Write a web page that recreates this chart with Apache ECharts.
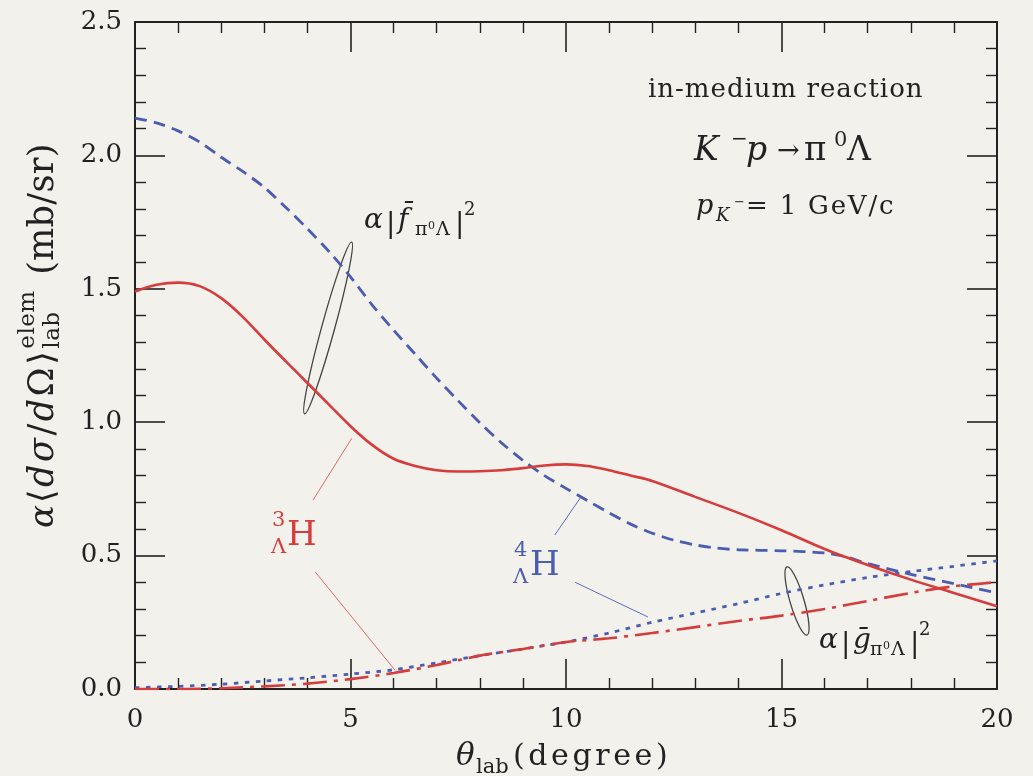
<!DOCTYPE html>
<html><head><meta charset="utf-8">
<script src="https://cdn.jsdelivr.net/npm/echarts@6/dist/echarts.min.js"></script>
<style>html,body{margin:0;padding:0;background:#f3f1ec;}#c{width:1033px;height:776px;}</style>
</head><body><div id="c"></div>
<script>
// ---- data (theta_lab in degrees, cross sections in mb/sr) ----
const xF3 = [0,0.5,1,1.5,2,2.5,3,3.5,4,4.5,5,5.5,6,6.5,7,7.5,8,8.5,9,9.5,10,10.5,11,11.5,12,13,14,15,16,17,18,19,20];
const h3F = [1.49,1.515,1.523,1.51,1.465,1.395,1.31,1.228,1.147,1.066,0.985,0.915,0.863,0.836,0.82,0.815,0.816,0.82,0.828,0.838,0.842,0.836,0.82,0.80,0.78,0.72,0.66,0.595,0.525,0.465,0.41,0.36,0.31];
const xF4 = [0,0.5,1,1.5,2,2.5,3,3.5,4,4.5,5,5.5,6,6.5,7,7.5,8,8.5,9,9.5,10,10.5,11,11.5,12,12.5,13,13.5,14,15,16,16.5,17,18,19,20];
const h4F = [2.14,2.122,2.092,2.05,1.993,1.94,1.88,1.805,1.725,1.64,1.545,1.44,1.345,1.255,1.165,1.08,0.998,0.923,0.857,0.80,0.752,0.706,0.66,0.618,0.584,0.558,0.54,0.528,0.522,0.518,0.51,0.495,0.47,0.43,0.395,0.36];
const xG = [0,1,2,3,4,5,6,7,8,9,10,11,12,13,14,15,16,17,18,19,20];
const h4G = [0.005,0.01,0.018,0.03,0.042,0.056,0.072,0.098,0.125,0.15,0.176,0.21,0.25,0.285,0.32,0.358,0.39,0.418,0.44,0.46,0.48];
const h3G = [0,0,0.003,0.01,0.02,0.037,0.06,0.09,0.125,0.15,0.176,0.19,0.21,0.232,0.255,0.275,0.30,0.33,0.36,0.385,0.40];
const xTicks = [0,5,10,15,20];
const yTicks = ['0.0','0.5','1.0','1.5','2.0','2.5'];

const RED = '#d63c3c', BLUE = '#4a5db0', INK = '#222';
const FF = '"DejaVu Serif", "Liberation Serif", serif';

const chart = echarts.init(document.getElementById('c'), null, {renderer:'canvas'});
const pairs = (xs, ys) => xs.map((x,i)=>[x, ys[i]]);

const axisCommon = {
  axisLine:{show:true, onZero:false, lineStyle:{color:INK, width:2}},
  axisTick:{show:true, inside:true, length:30, lineStyle:{color:INK, width:1.6}},
  minorTick:{show:true, splitNumber:5, length:11, lineStyle:{color:INK, width:1.4}},
  splitLine:{show:false}, minorSplitLine:{show:false}
};
const leader = (pts, color) => ({
  silent:true, symbol:'none', animation:false,
  label:{show:false},
  lineStyle:{color:color, width:1, type:'solid'},
  emphasis:{disabled:true},
  data: pts.map(p=>[{coord:p[0]},{coord:p[1]}])
});

chart.setOption({
  backgroundColor:'#f3f1ec',
  animation:false,
  grid:{left:135, top:22, right:36, bottom:87, containLabel:false, outerBoundsMode:'none'},
  xAxis:[
    Object.assign({type:'value', min:0, max:20, interval:5, position:'bottom',
      axisLabel:{show:true, margin:18, color:INK, fontSize:26, fontFamily:FF,
        formatter:v=> xTicks.includes(v) ? String(v) : ''}}, axisCommon),
    Object.assign({type:'value', min:0, max:20, interval:5, position:'top', axisLabel:{show:false}}, axisCommon)
  ],
  yAxis:[
    Object.assign({type:'value', min:0, max:2.5, interval:0.5, position:'left',
      axisLabel:{show:true, margin:13, color:INK, fontSize:26, fontFamily:FF,
        formatter:v=> yTicks[Math.round(v/0.5)]}}, axisCommon),
    Object.assign({type:'value', min:0, max:2.5, interval:0.5, position:'right', axisLabel:{show:false}}, axisCommon)
  ],
  series:[
    {name:'3H f', type:'line', data:pairs(xF3,h3F), smooth:0.3, showSymbol:false, symbol:'none',
      lineStyle:{color:RED, width:2.6}, z:5,
      markLine: leader([[[4.13,0.708],[5.03,0.94]], [[4.18,0.439],[6.03,0.071]]], '#e06a6a')},
    {name:'4H f', type:'line', data:pairs(xF4,h4F), smooth:0.3, showSymbol:false, symbol:'none',
      lineStyle:{color:BLUE, width:2.8, type:[12,7]}, z:4,
      markLine: leader([[[9.74,0.577],[10.33,0.716]], [[10.21,0.40],[11.9,0.27]]], '#5a6cc0')},
    {name:'4H g', type:'line', data:pairs(xG,h4G), smooth:0.3, showSymbol:false, symbol:'none',
      lineStyle:{color:BLUE, width:2.8, type:[4.5,6.5]}, z:4},
    {name:'3H g', type:'line', data:pairs(xG,h3G), smooth:0.3, showSymbol:false, symbol:'none',
      lineStyle:{color:RED, width:2.6, type:[24,7,4,7]}, z:5}
  ]
});

// ---- text helpers ----
const mctx = document.createElement('canvas').getContext('2d');
function tw(t, s, st){ mctx.font = (st||'normal') + ' ' + s + 'px ' + FF; return mctx.measureText(t).width; }
// single text with its baseline at (x, base)
function T(x, base, t, s, st, color){
  return {type:'text', x:x, y:base-0.346*s, silent:true,
    style:{text:t, fontSize:s, fontStyle:st||'normal', fontFamily:FF, fill:color||INK,
      align:'left', verticalAlign:'middle'}};
}
// letter-spaced text starting at x
function S(x, base, t, s, st, gap, color){
  const out=[]; let cx=x;
  for(const ch of t){ out.push(T(cx, base, ch, s, st, color)); cx += tw(ch,s,st) + gap; }
  return out;
}
function SW(t, s, st, gap){ let w=0; for(const ch of t) w += tw(ch,s,st)+gap; return w-gap; }

const px = p => chart.convertToPixel({xAxisIndex:0, yAxisIndex:0}, p);
const e1 = px([4.48,1.353]), e2 = px([15.36,0.33]);

const g = [];
// top-right annotations
g.push(...S(648, 99, 'in-medium reaction', 26, 'normal', 1));
g.push(T(694,163,'K',33,'italic'), T(731,147,'\u2212',20), T(746,163,'p',33,'italic'),
       T(777,161,'\u2192',27), T(804,163,'\u03C0',34), T(834,148,'0',21), T(847,163,'\u039B',33));
g.push(T(696,216,'p',27,'italic'), T(716,223,'K',18,'italic'), T(734,207,'\u2212',13));
g.push(...S(746, 216, '= 1 GeV/c', 26, 'normal', 1.8));
// |f|^2 and |g|^2 labels
function ampLabel(x, base, letter){
  return [T(x,base,'\u03B1',28,'italic'), T(x+22,base+4,'|',28), T(x+34,base,letter,28,'italic'),
    T(x+51,base+7,'\u03C0',19), T(x+64,base,'0',11), T(x+72,base+7,'\u039B',19),
    T(x+91,base+4,'|',28), T(x+100,base-13,'2',18)];
}
g.push(...ampLabel(364, 230, 'f\u0304'));
g.push(...ampLabel(819, 650, 'g\u0304'));
// hypernuclei labels
g.push(T(272,528,'3',21,'normal',RED), T(271,555,'\u039B',21,'normal',RED), T(287,548,'H',34,'normal',RED));
g.push(T(514,558,'4',21,'normal',BLUE), T(513,585,'\u039B',21,'normal',BLUE), T(530,578,'H',34,'normal',BLUE));
// x axis name
g.push(T(456,768,'\u03B8',31,'italic'), T(476,775,'lab',21));
g.push(...S(513, 768, '(degree)', 30, 'normal', 3.6));
// y axis name (rotated group, local baseline y=0, reading along +x)
const yn = [];
yn.push(T(0,0,'\u03B1',34,'italic'));
let cx = tw('\u03B1',34,'italic') + 2;
for(const [ch,st] of [['\u27E8','normal'],['d','italic'],['\u03C3','italic'],['/','normal'],['d','italic'],['\u03A9','normal'],['\u27E9','normal']]){
  yn.push(T(cx,0,ch,35,st)); cx += tw(ch,35,st) + 2.5;
}
yn.push(...S(cx, -20, 'elem', 23, 'normal', 0.5));
yn.push(...S(cx, 5, 'lab', 23, 'normal', 0.5));
cx += SW('elem',23,'normal',0.5) + 16;
yn.push(...S(cx, 0, '(mb/sr)', 35, 'normal', 0.3));
g.push({type:'group', x:56, y:528, rotation:Math.PI/2, children:yn});
// ellipses
g.push({type:'ellipse', x:e1[0], y:e1[1], rotation:-0.268, silent:true,
  shape:{cx:0, cy:0, rx:6.5, ry:89}, style:{fill:'none', stroke:'#444', lineWidth:1.3}});
g.push({type:'ellipse', x:e2[0], y:e2[1], rotation:0.286, silent:true,
  shape:{cx:0, cy:0, rx:7, ry:35.5}, style:{fill:'none', stroke:'#444', lineWidth:1.3}});

chart.setOption({graphic:{elements:g}});
</script></body></html>
